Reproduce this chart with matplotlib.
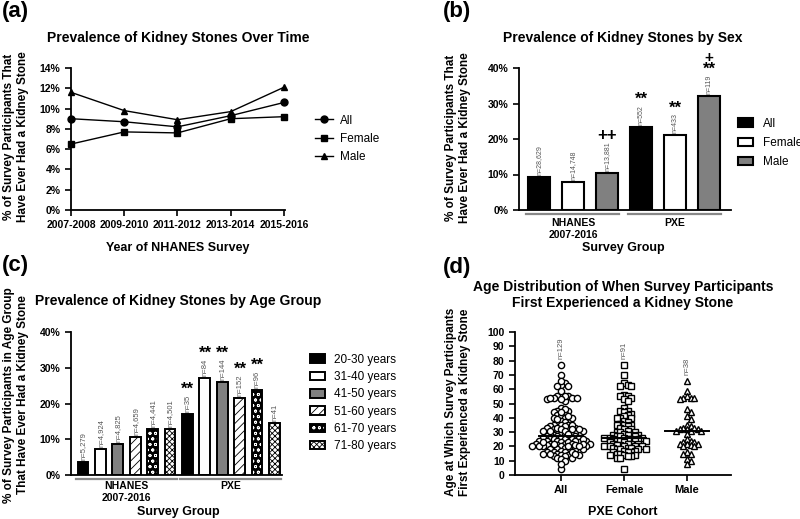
import numpy as np
import matplotlib
matplotlib.use('Agg')
import matplotlib.pyplot as plt
from matplotlib.patches import Patch

plt.rcParams['font.family'] = ['Liberation Sans', 'DejaVu Sans']
plt.rcParams['font.weight'] = 'bold'
plt.rcParams['hatch.linewidth'] = 0.6
plt.rcParams['axes.linewidth'] = 1.3

# ---- (a) prevalence over time
years = ['2007-2008', '2009-2010', '2011-2012', '2013-2014', '2015-2016']
prev_all = [9.0, 8.7, 8.2, 9.3, 10.6]
prev_female = [6.5, 7.7, 7.6, 9.0, 9.2]
prev_male = [11.6, 9.8, 8.9, 9.7, 12.1]

# ---- (b) prevalence by sex
sex_labels = ['All', 'Female', 'Male']
sex_nhanes = [9.2, 8.0, 10.4]
sex_pxe = [23.4, 21.0, 32.0]
sex_n_nhanes = ['n=28,629', 'n=14,748', 'n=13,881']
sex_n_pxe = ['n=552', 'n=433', 'n=119']
sex_sig_nhanes = ['', '', '++']
sex_sig_pxe = ['**', '**', '**']
sex_sig2_pxe = ['', '', '+']

# ---- (c) prevalence by age group
age_labels = ['20-30 years', '31-40 years', '41-50 years', '51-60 years', '61-70 years', '71-80 years']
age_nhanes = [3.7, 7.3, 8.6, 10.7, 12.8, 12.9]
age_pxe = [17.0, 27.2, 26.0, 21.4, 23.7, 14.6]
age_n_nhanes = ['n=5,279', 'n=4,924', 'n=4,825', 'n=4,659', 'n=4,441', 'n=4,501']
age_n_pxe = ['n=35', 'n=84', 'n=144', 'n=152', 'n=96', 'n=41']
age_sig_pxe = ['**', '**', '**', '**', '**', '']

# ---- (d) age at first stone (PXE cohort)
female_ages = [77, 70, 64, 63, 62, 62, 56, 55, 55, 54, 53, 52, 47, 45, 45, 44, 43, 42, 41, 40,
               40, 40, 38, 37, 36, 35, 35, 35, 34, 33, 32, 32, 31, 30, 30, 30, 29, 28, 28, 28,
               28, 27, 27, 27, 26, 26, 26, 26, 25, 25, 25, 25, 24, 24, 24, 24, 23, 23, 22, 22,
               22, 22, 21, 21, 20, 20, 20, 20, 20, 19, 19, 19, 18, 18, 18, 18, 17, 17, 16, 16,
               16, 15, 15, 14, 14, 14, 13, 13, 12, 12, 4]
male_ages = [66, 59, 55, 54, 54, 54, 53, 46, 44, 41, 39, 35, 34, 33, 33, 32, 32, 32, 31, 31,
             31, 29, 25, 24, 23, 23, 22, 22, 22, 21, 20, 20, 16, 15, 15, 11, 10, 8]
all_ages = female_ages + male_ages
cohorts = ['All', 'Female', 'Male']

W, H = 800, 519
fig = plt.figure(figsize=(W / 100, H / 100), dpi=100)


def add_ax(l, t, r, b):
    ax = fig.add_axes([l / W, 1 - b / H, (r - l) / W, (b - t) / H])
    ax.spines['top'].set_visible(False)
    ax.spines['right'].set_visible(False)
    ax.tick_params(width=1.2, length=4, labelsize=7.5)
    return ax


def ftext(x, y, s, **kw):
    kw.setdefault('ha', 'center')
    kw.setdefault('va', 'center')
    return fig.text(x / W, 1 - y / H, s, **kw)


def pct(ax):
    ax.set_yticklabels([f'{int(v)}%' for v in ax.get_yticks()])


def group_lines(ax, spans, labels, label_y):
    for (x0, x1), lab in zip(spans, labels):
        ax.plot([x0, x1], [-0.025, -0.025], transform=ax.get_xaxis_transform(),
                color='#888888', lw=1.6, clip_on=False)
        ax.text((x0 + x1) / 2, label_y, lab, transform=ax.get_xaxis_transform(),
                ha='center', va='top', fontsize=7.5, linespacing=1.25)


def n_and_sig(ax, x, top, nlab, sig='', sig2='', nsize=5, ssize=12):
    t = ax.annotate(nlab, (x, top), xytext=(0.3, 1.5), textcoords='offset points',
                    rotation=90, ha='center', va='bottom', fontsize=nsize,
                    color='#555555', fontweight='normal')
    if sig:
        s = ax.annotate(sig, xy=(0.5, 1), xycoords=t, xytext=(0, -1.5),
                        textcoords='offset points', ha='center', va='bottom',
                        fontsize=ssize)
        if sig2:
            ax.annotate(sig2, xy=(0.5, 1), xycoords=s, xytext=(0, -2.5),
                        textcoords='offset points', ha='center', va='bottom',
                        fontsize=ssize - 1)


# ================= (a)
ax = add_ax(71, 68, 285, 210)
xs = np.arange(len(years))
for vals, mk, lab in [(prev_all, 'o', 'All'), (prev_female, 's', 'Female'), (prev_male, '^', 'Male')]:
    ax.plot(xs, vals, color='black', lw=1.0, marker=mk, markersize=5, label=lab, clip_on=False)
ax.set_xlim(0, 4.02)
ax.set_ylim(0, 14)
ax.set_yticks(range(0, 15, 2))
pct(ax)
ax.set_xticks(xs)
ax.set_xticklabels(years)
fig.legend(*ax.get_legend_handles_labels(), loc='center left', bbox_to_anchor=(315 / W, 1 - 139 / H),
           frameon=False, borderpad=0, borderaxespad=0, handlelength=1.5, handletextpad=0.6,
           labelspacing=0.55, prop={'size': 8.5, 'weight': 'normal'})
ftext(2, 12, '(a)', fontsize=16, ha='left')
ftext(178, 38, 'Prevalence of Kidney Stones Over Time', fontsize=10)
ftext(16, 137, '% of Survey Participants That\nHave Ever Had a Kidney Stone', fontsize=8.5,
      rotation=90, linespacing=1.3)
ftext(178, 248, 'Year of NHANES Survey', fontsize=9)

# ================= (b)
ax = add_ax(519, 68, 731, 210)
sex_colors = ['black', 'white', '#808080']
bw = 0.65
for g, (vals, nl, sg) in enumerate([(sex_nhanes, sex_n_nhanes, sex_sig_nhanes),
                                    (sex_pxe, sex_n_pxe, sex_sig_pxe)]):
    for i, v in enumerate(vals):
        x = g * 3 + i
        ax.bar(x, v, bw, color=sex_colors[i], edgecolor='black', linewidth=1.5)
        s2 = sex_sig2_pxe[i] if g == 1 else ''
        n_and_sig(ax, x, v, nl[i], sg[i], s2)
ax.set_xlim(-0.59, 5.66)
ax.set_ylim(0, 40)
ax.set_yticks(range(0, 41, 10))
pct(ax)
ax.set_xticks([])
group_lines(ax, [(-0.37, 2.37), (2.63, 5.37)], ['NHANES\n2007-2016', 'PXE'], -0.055)
handles = [Patch(facecolor=c, edgecolor='black', linewidth=1.5) for c in sex_colors]
fig.legend(handles, sex_labels, loc='center left', bbox_to_anchor=(738 / W, 1 - 143 / H),
           frameon=False, borderpad=0, borderaxespad=0, handlelength=1.3, handleheight=0.75,
           handletextpad=0.8, labelspacing=0.6, prop={'size': 8.5, 'weight': 'normal'})
ftext(443, 12, '(b)', fontsize=16, ha='left')
ftext(623, 38, 'Prevalence of Kidney Stones by Sex', fontsize=10)
ftext(458, 138, '% of Survey Participants That\nHave Ever Had a Kidney Stone', fontsize=8.5,
      rotation=90, linespacing=1.3)
ftext(623, 248, 'Survey Group', fontsize=9)

# ================= (c)
ax = add_ax(71, 332, 282, 475)
age_styles = [('black', None, 'black'), ('white', None, 'white'), ('#808080', None, '#808080'),
              ('white', '////', 'black'), ('black', 'ooo', 'white'), ('white', 'xxxxxx', 'black')]
bw = 0.62
for g, (vals, nl) in enumerate([(age_nhanes, age_n_nhanes), (age_pxe, age_n_pxe)]):
    for i, v in enumerate(vals):
        x = g * 6 + i
        fc, hat, hc = age_styles[i]
        ax.bar(x, v, bw, color=fc, edgecolor=hc, hatch=hat, linewidth=0)
        ax.bar(x, v, bw, fill=False, edgecolor='black', linewidth=1.4)
        sig = age_sig_pxe[i] if g == 1 else ''
        n_and_sig(ax, x, v, nl[i], sig, nsize=5.5, ssize=12)
ax.set_xlim(-0.69, 11.44)
ax.set_ylim(0, 40)
ax.set_yticks(range(0, 41, 10))
pct(ax)
ax.set_xticks([])
group_lines(ax, [(-0.4, 5.4), (5.6, 11.4)], ['NHANES\n2007-2016', 'PXE'], -0.045)
handles = []
for fc, hat, hc in age_styles:
    handles.append((Patch(facecolor=fc, edgecolor=hc, hatch=hat, linewidth=0),
                    Patch(fill=False, edgecolor='black', linewidth=1.4)))
fig.legend(handles, age_labels, loc='center left', bbox_to_anchor=(310 / W, 1 - 403 / H),
           frameon=False, borderpad=0, borderaxespad=0, handlelength=1.3, handleheight=0.75,
           handletextpad=0.7, labelspacing=0.45, prop={'size': 8.5, 'weight': 'normal'})
ftext(2, 266, '(c)', fontsize=16, ha='left')
ftext(178, 301, 'Prevalence of Kidney Stones by Age Group', fontsize=10)
ftext(16, 395, '% of Survey Participants in Age Group\nThat Have Ever Had a Kidney Stone',
      fontsize=8.5, rotation=90, linespacing=1.3)
ftext(178, 512, 'Survey Group', fontsize=9)

# ================= (d)
ax = add_ax(515, 332, 731, 475)
px_per_x = 63.0   # pixels per category
px_per_y = 1.43   # pixels per year of age


def swarm(vals, step=3.6):
    order = np.argsort(vals)[::-1]
    placed = []
    offs = np.zeros(len(vals))
    cands = [0.0]
    for k in range(1, 60):
        cands += [k * step * 0.5, -k * step * 0.5]
    for idx in order:
        y = vals[idx] * px_per_y
        for c in cands:
            if all((c - a) ** 2 + (y - b) ** 2 >= step ** 2 for a, b in placed):
                break
        placed.append((c, y))
        offs[idx] = c / px_per_x
    return offs


for i, (vals, mk) in enumerate([(all_ages, 'o'), (female_ages, 's'), (male_ages, '^')]):
    vals = np.array(vals, dtype=float)
    ax.plot(i + swarm(vals), vals, linestyle='none', marker=mk, markersize=4.5,
            markerfacecolor='white', markeredgecolor='black', markeredgewidth=1.0, clip_on=False)
    med = np.median(vals)
    ax.plot([i - 0.35, i + 0.35], [med, med], color='black', lw=1.4)
    ax.annotate(f'n={len(vals)}', (i, vals.max()), xytext=(0.3, 4), textcoords='offset points',
                rotation=90, ha='center', va='bottom', fontsize=5.5, color='#555555',
                fontweight='normal')
ax.set_xlim(-0.73, 2.70)
ax.set_ylim(0, 100)
ax.set_yticks(range(0, 101, 10))
ax.set_xticks(range(3))
ax.set_xticklabels(cohorts, fontsize=8)
ftext(443, 267, '(d)', fontsize=16, ha='left')
ftext(623, 295, 'Age Distribution of When Survey Participants\nFirst Experienced a Kidney Stone',
      fontsize=10, linespacing=1.15)
ftext(458, 402, 'Age at Which Survey Participants\nFirst Experienced a Kidney Stone', fontsize=8.5,
      rotation=90, linespacing=1.3)
ftext(623, 512, 'PXE Cohort', fontsize=9)

fig.savefig('out.png', dpi=100)
